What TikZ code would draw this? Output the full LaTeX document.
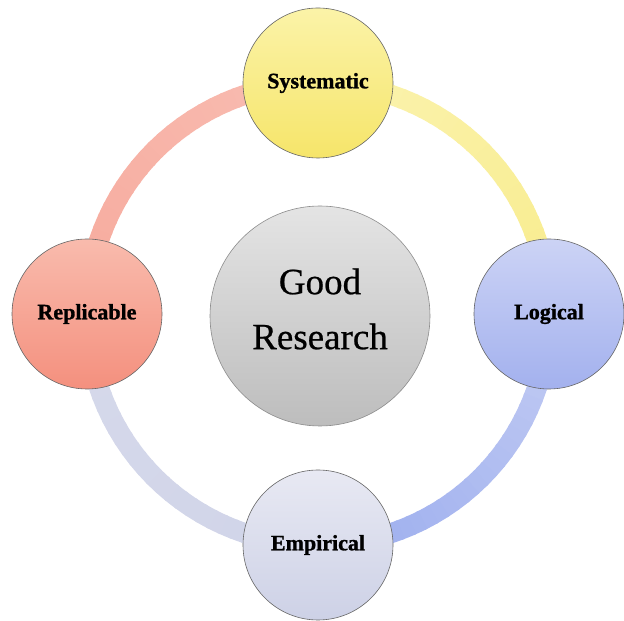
\documentclass[tikz,border=0pt]{standalone}
\usepackage{fontspec}
\setmainfont{Liberation Serif}
\newfontfamily\heavyserif[FakeBold=1.2]{Liberation Serif Bold}
\newfontfamily\coreserif[FakeBold=0.6]{Liberation Serif}
\usetikzlibrary{calc}
\definecolor{ringYa}{HTML}{F8EC8C}
\definecolor{ringYb}{HTML}{FBF3B0}
\definecolor{ringBa}{HTML}{C3CCF3}
\definecolor{ringBb}{HTML}{9AACEE}
\definecolor{ringGa}{HTML}{D0D4E8}
\definecolor{ringGb}{HTML}{D6D9EB}
\definecolor{ringRa}{HTML}{F6AA9D}
\definecolor{ringRb}{HTML}{F9BDB2}
\definecolor{sysTop}{HTML}{FBF3A8}
\definecolor{sysBot}{HTML}{F6E56A}
\definecolor{logTop}{HTML}{CCD3F5}
\definecolor{logBot}{HTML}{A3B1EE}
\definecolor{empTop}{HTML}{E8E9F3}
\definecolor{empBot}{HTML}{CDD1E6}
\definecolor{repTop}{HTML}{F9BBAD}
\definecolor{repBot}{HTML}{F4907E}
\definecolor{cenTop}{HTML}{E4E4E4}
\definecolor{cenBot}{HTML}{BDBDBD}
\tikzset{
  bubble/.style={circle, minimum size=150pt, inner sep=0pt, draw=black!60, line width=0.6pt,
    font=\heavyserif\fontsize{22}{26}\selectfont, text=black},
  core/.style={circle, minimum size=220pt, inner sep=0pt, draw=black!45, line width=0.6pt},
  coretext/.style={font=\coreserif\fontsize{37}{55}\selectfont, align=center, text=black, inner sep=0pt},
  ringseg/.style={line width=20pt}
}
\begin{document}
\begin{tikzpicture}[x=1pt,y=1pt]
\useasboundingbox (0,0) rectangle (624,621);
\fill[white] (0,0) rectangle (624,621);
\coordinate (ringc) at (318,307);
% ring segments with gradients
\foreach \s/\ca/\cb in {90/ringYb/ringYa, 0/ringBa/ringBb, -90/ringGa/ringGb, -180/ringRa/ringRb}{
  \foreach \k in {0,...,29}{
    \pgfmathtruncatemacro\t{100*\k/29}
    \pgfmathsetmacro\aa{\s-3*\k}
    \pgfmathsetmacro\ab{\aa-3.6}
    \draw[ringseg, color=\cb!\t!\ca] ($(ringc)+(\aa:231)$) arc[start angle=\aa, end angle=\ab, radius=231];
  }
}
\node[bubble, top color=sysTop, bottom color=sysBot] (sys) at ($(ringc)+(90:231)$) {Systematic};
\node[bubble, top color=logTop, bottom color=logBot] (log) at ($(ringc)+(0:231)$) {Logical};
\node[bubble, top color=empTop, bottom color=empBot] (emp) at ($(ringc)+(270:231)$) {Empirical};
\node[bubble, top color=repTop, bottom color=repBot] (rep) at ($(ringc)+(180:231)$) {Replicable};
\node[core, top color=cenTop, bottom color=cenBot] (good) at (320,305) {};
\node[coretext] (goodtxt) at ([yshift=7pt]good.center) {Good\\Research};
\end{tikzpicture}
\end{document}
